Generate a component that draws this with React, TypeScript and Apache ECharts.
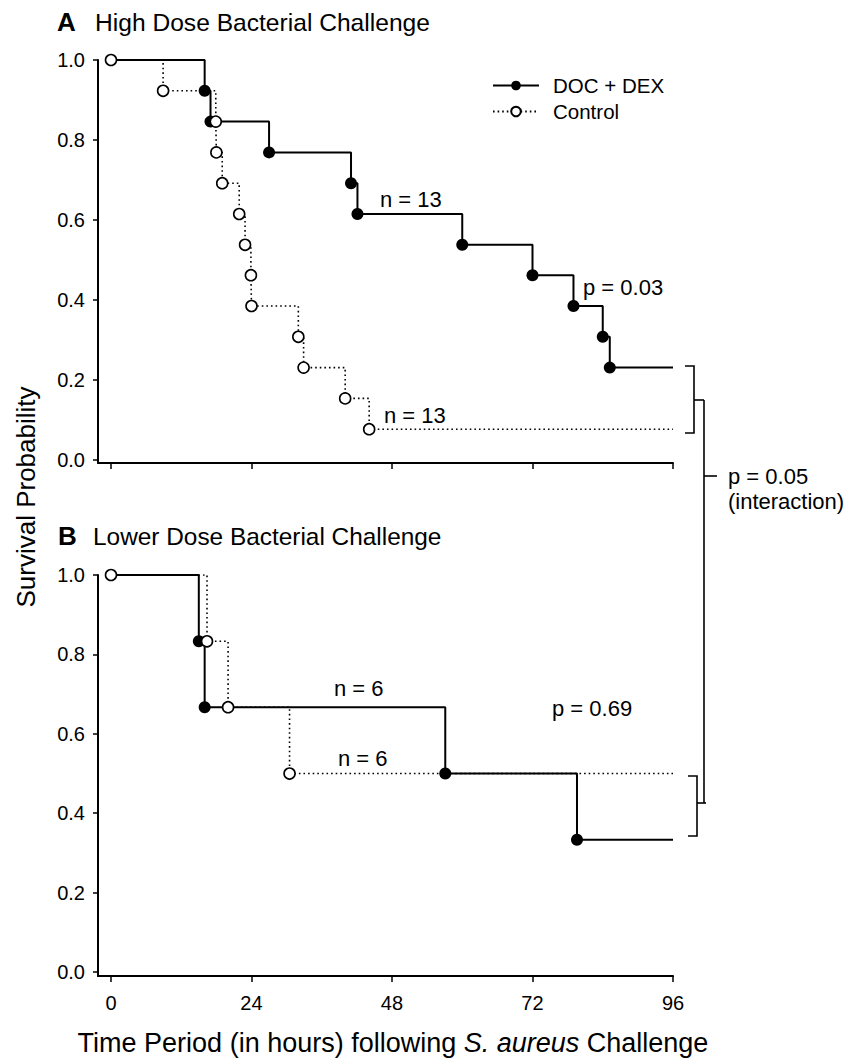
import React, { useEffect, useRef } from "react";
import * as echarts from "echarts";

// ---- data (hours, survival probability) ----
const xTicks = [0, 24, 48, 72, 96];
const yTicks = [0, 0.2, 0.4, 0.6, 0.8, 1.0];

// Panel A: High dose
const hoursA_doc = [0, 16.0, 17.0, 27.0, 41.0, 42.1, 60.0, 72.0, 79.0, 84.0, 85.2, 96];
const survA_doc = [1.0, 0.923, 0.846, 0.769, 0.692, 0.615, 0.538, 0.462, 0.385, 0.308, 0.231, 0.231];
const hoursA_ctl = [0, 8.9, 17.9, 18.0, 19.0, 21.9, 22.9, 23.9, 24.0, 32.0, 32.9, 40.0, 44.1, 96];
const survA_ctl = [1.0, 0.923, 0.846, 0.769, 0.692, 0.615, 0.538, 0.462, 0.385, 0.308, 0.231, 0.154, 0.077, 0.077];

// Panel B: Lower dose
const hoursB_doc = [0, 15.0, 16.0, 57.1, 79.6, 96];
const survB_doc = [1.0, 0.833, 0.667, 0.5, 0.333, 0.333];
const hoursB_ctl = [0, 16.4, 20.0, 30.5, 96];
const survB_ctl = [1.0, 0.833, 0.667, 0.5, 0.5];

const seriesNames = ["DOC + DEX", "Control"];

const FONT = "'Liberation Sans', Arial, Helvetica, sans-serif";

function build(hours: number[], surv: number[], showFirst: boolean) {
  return hours.map((h, i) => {
    const hide = i === hours.length - 1 || (i === 0 && !showFirst);
    return hide ? { value: [h, surv[i]], symbol: "none" } : { value: [h, surv[i]] };
  });
}

function xAxisFor(gridIndex: number, labels: boolean) {
  return {
    gridIndex,
    type: "value",
    min: -2.22,
    max: 96,
    axisLine: { onZero: false, lineStyle: { color: "#000", width: 2 } },
    axisTick: { customValues: xTicks, length: 6, lineStyle: { color: "#000", width: 1.5 } },
    axisLabel: labels
      ? { customValues: xTicks, fontSize: 20, color: "#000", fontFamily: FONT, margin: 17 }
      : { show: false },
    splitLine: { show: false },
  };
}

function yAxisFor(gridIndex: number, min: number) {
  return {
    gridIndex,
    type: "value",
    min,
    max: 1,
    axisLine: { onZero: false, lineStyle: { color: "#000", width: 2 } },
    axisTick: { customValues: yTicks, length: 5, lineStyle: { color: "#000", width: 1.5 } },
    axisLabel: {
      customValues: yTicks,
      fontSize: 20,
      color: "#000",
      fontFamily: FONT,
      margin: 13,
      formatter: (v: number) => v.toFixed(1),
    },
    splitLine: { show: false },
  };
}

const solidSeries = (name: string, idx: number, data: any[]) => ({
  name,
  type: "line",
  xAxisIndex: idx,
  yAxisIndex: idx,
  step: "end",
  data,
  symbol: "circle",
  symbolSize: 12,
  lineStyle: { color: "#000", width: 2 },
  itemStyle: { color: "#000" },
  emphasis: { disabled: true },
});

const dottedSeries = (name: string, idx: number, data: any[]) => ({
  name,
  type: "line",
  xAxisIndex: idx,
  yAxisIndex: idx,
  step: "end",
  data,
  symbol: "circle",
  symbolSize: 11,
  lineStyle: { color: "#000", width: 1.6, type: [1.6, 3] },
  itemStyle: { color: "#fff", borderColor: "#000", borderWidth: 1.6 },
  emphasis: { disabled: true },
});

const txt = (x: number, y: number, text: string, fontSize = 22, extra: any = {}) => ({
  type: "text",
  x,
  y,
  style: {
    text,
    fontSize,
    fontFamily: FONT,
    fill: "#000",
    align: "left",
    verticalAlign: "middle",
    ...extra,
  },
});

const ln = (x1: number, y1: number, x2: number, y2: number) => ({
  type: "line",
  shape: { x1, y1, x2, y2 },
  style: { stroke: "#000", lineWidth: 1.6 },
});

const pl = (points: number[][]) => ({
  type: "polyline",
  shape: { points },
  style: { stroke: "#000", lineWidth: 1.6, fill: "none" },
});

export default function App() {
  const ref = useRef<HTMLDivElement>(null);
  useEffect(() => {
    if (!ref.current) return;
    const chart = echarts.init(ref.current, null, { renderer: "svg" });
    chart.setOption({
      animation: false,
      backgroundColor: "#fff",
      grid: [
        { left: 98, top: 60, width: 575, height: 403 },
        { left: 98, top: 575, width: 575, height: 401 },
      ],
      xAxis: [xAxisFor(0, false), xAxisFor(1, true)],
      yAxis: [yAxisFor(0, -0.0075), yAxisFor(1, -0.01)],
      legend: {
        data: seriesNames,
        orient: "vertical",
        left: 487,
        top: 70,
        itemWidth: 46,
        itemHeight: 12,
        itemGap: 5,
        selectedMode: false,
        textStyle: { fontSize: 20.5, color: "#000", fontFamily: FONT, padding: [0, 0, 0, 9] },
      },
      series: [
        solidSeries(seriesNames[0], 0, build(hoursA_doc, survA_doc, false)),
        dottedSeries(seriesNames[1], 0, build(hoursA_ctl, survA_ctl, true)),
        solidSeries(seriesNames[0], 1, build(hoursB_doc, survB_doc, false)),
        dottedSeries(seriesNames[1], 1, build(hoursB_ctl, survB_ctl, true)),
      ],
      graphic: [
        txt(57, 22, "A", 26, { fontWeight: "bold" }),
        txt(95, 22, "High Dose Bacterial Challenge", 24.6),
        txt(58, 536, "B", 26, { fontWeight: "bold" }),
        txt(93, 536, "Lower Dose Bacterial Challenge", 24.4),
        txt(380, 199, "n = 13"),
        txt(384, 415, "n = 13"),
        txt(583, 287, "p = 0.03"),
        txt(334, 688, "n = 6"),
        txt(338, 758, "n = 6"),
        txt(552, 708, "p = 0.69"),
        txt(728, 476, "p = 0.05"),
        txt(728, 501, "(interaction)"),
        // brackets
        pl([[685, 366], [694, 366], [694, 433], [685, 433]]),
        ln(694, 400, 704, 400),
        ln(704, 400, 704, 803),
        pl([[688, 776], [697, 776], [697, 836], [688, 836]]),
        ln(697, 803, 706, 803),
        ln(704, 476, 717, 476),
        // axis titles
        {
          type: "text",
          x: 26,
          y: 497,
          rotation: Math.PI / 2,
          style: {
            text: "Survival Probability",
            fontSize: 26,
            fontFamily: FONT,
            fill: "#000",
            align: "center",
            verticalAlign: "middle",
          },
        },
        {
          type: "text",
          x: 393,
          y: 1043,
          style: {
            text: "{a|Time Period (in hours) following }{i|S. aureus}{a| Challenge}",
            rich: {
              a: { fontSize: 27, fontFamily: FONT, fill: "#000" },
              i: { fontSize: 27, fontFamily: FONT, fontStyle: "italic", fill: "#000" },
            },
            align: "center",
            verticalAlign: "middle",
          },
        },
      ],
    });
    return () => chart.dispose();
  }, []);
  return (
    <div
      ref={ref}
      style={{ position: "absolute", left: 0, top: 0, width: 862, height: 1058, background: "#fff" }}
    />
  );
}
